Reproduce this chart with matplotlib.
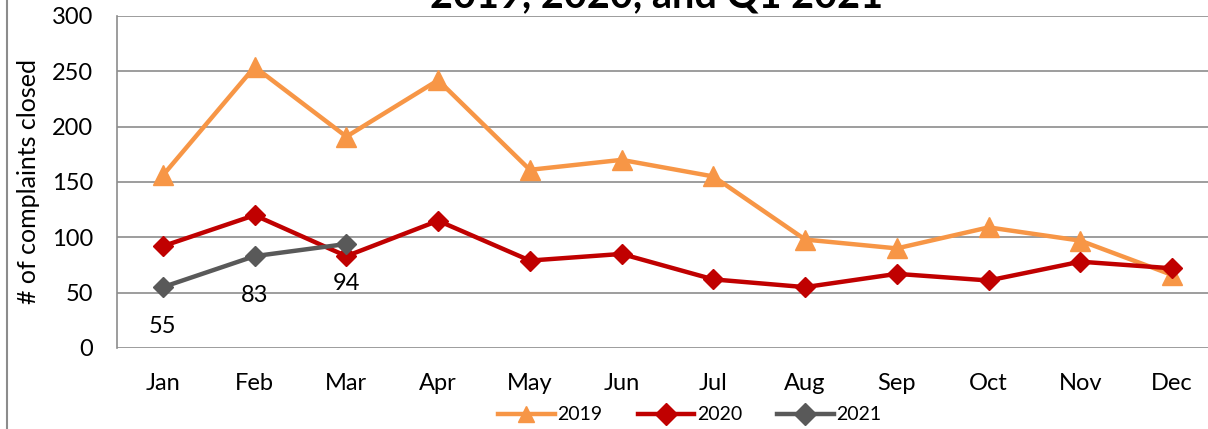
import matplotlib
matplotlib.use("Agg")
import matplotlib.pyplot as plt
from matplotlib.lines import Line2D

months = ["Jan", "Feb", "Mar", "Apr", "May", "Jun", "Jul", "Aug", "Sep", "Oct", "Nov", "Dec"]
y2019 = [156, 254, 191, 242, 161, 170, 155, 98, 90, 109, 97, 66]
y2020 = [92, 120, 83, 115, 79, 85, 62, 55, 67, 61, 78, 72]
y2021 = [55, 83, 94]
yticks = [0, 50, 100, 150, 200, 250, 300]

plt.rcParams['font.family'] = ['Lato', 'DejaVu Sans']
FS = 17

W, H = 1208, 429
fig = plt.figure(figsize=(W / 100, H / 100), dpi=100)
# plot area: x 117..1218 px, y 16..348 px
ax = fig.add_axes([117 / W, 1 - 348 / H, (1218 - 117) / W, (348 - 16) / H])

x = list(range(len(months)))
ax.plot(x, y2019, color="#F79646", lw=3.2, marker="^", ms=14, label="2019", zorder=3)
ax.plot(x, y2020, color="#C00000", lw=3.2, marker="D", ms=10, label="2020", zorder=4)
ax.plot(x[:len(y2021)], y2021, color="#595959", lw=3.2, marker="D", ms=10, label="2021", zorder=5)

for xi, v in zip(x, y2021):
    ax.annotate(str(v), (xi, v), xytext=(0, -28.5), textcoords="offset points",
                ha="center", va="center", fontsize=FS, color="black")

ax.set_xlim(-0.5, 11.5)
ax.set_ylim(0, 300)
ax.set_yticks(yticks)
ax.set_xticks(x)
ax.set_xticklabels(months)
ax.tick_params(axis="both", labelsize=FS, length=0, colors="black")
ax.tick_params(axis="x", pad=18)
ax.tick_params(axis="y", pad=17)
ax.yaxis.grid(True, color="#8C8C8C", lw=1.2)
ax.set_axisbelow(True)
for s in ["top", "right", "bottom"]:
    ax.spines[s].set_visible(False)
ax.spines["left"].set_color("#8C8C8C")
ax.spines["left"].set_linewidth(1.2)
ax.set_ylabel("# of complaints closed", fontsize=18)
ax.yaxis.set_label_coords((40 - 117) / (1218 - 117), 0.5)

fig.text(657 / W, 1 - 7 / H, "2019, 2020, and Q1 2021", ha="center", va="baseline",
         fontsize=28.5, fontweight="bold")

fig.add_artist(Line2D([7 / W, 7 / W], [0, 1], transform=fig.transFigure, color="#8C8C8C", lw=1.5))

leg = fig.legend(handles=ax.get_lines(), loc="center", bbox_to_anchor=(690 / W, 1 - 415 / H),
                 ncol=3, frameon=False, fontsize=14, handlelength=2.9, handletextpad=0.15,
                 columnspacing=1.8, borderaxespad=0)
for h in leg.legend_handles:
    h.set_markersize(11)

fig.savefig("out.png", dpi=100)
